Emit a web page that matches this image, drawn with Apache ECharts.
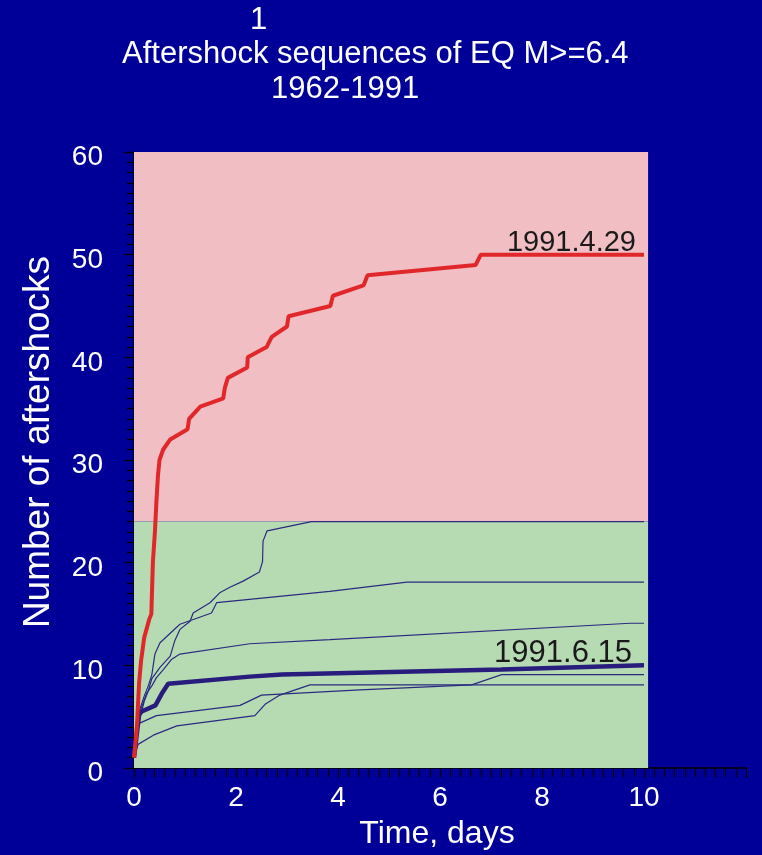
<!DOCTYPE html>
<html>
<head>
<meta charset="utf-8">
<script src="https://cdn.jsdelivr.net/npm/echarts@6/dist/echarts.min.js"></script>
<style>
  html, body { margin: 0; padding: 0; background: #000099; }
  #chart { width: 762px; height: 855px; }
</style>
</head>
<body>
<div id="chart"></div>
<script>
// Cumulative aftershock counts against time since the main shock (days)
const mainDays   = [0, 0.02, 0.06, 0.1, 0.14, 0.2, 0.3, 0.34, 0.37, 0.41, 0.44, 0.47, 0.5, 0.57, 0.71, 1.05, 1.08, 1.3, 1.75, 1.78, 1.84, 2.22, 2.23, 2.6, 2.7, 3.0, 3.03, 3.85, 3.9, 4.5, 4.58, 6.7, 6.8, 10];
const mainCounts = [1, 2, 4.3, 8.3, 10.5, 12.7, 14.5, 15, 20, 23, 26, 28.5, 30, 31, 32, 33, 34, 35.2, 36, 37, 38, 39, 40, 41, 42, 43, 44, 45, 46, 47, 48, 49, 50, 50];

const juneDays   = [0, 0.1, 0.15, 0.42, 0.54, 0.67, 2.27, 2.9, 7.2, 10];
const juneCounts = [1, 5.2, 5.5, 6.1, 7.2, 8.2, 8.9, 9.1, 9.6, 10];

const seqADays   = [0, 0.1, 0.2, 0.28, 0.35, 0.51, 0.71, 0.8, 0.9, 1.1, 1.16, 1.49, 1.69, 1.88, 2.14, 2.46, 2.52, 2.53, 2.61, 3.48, 10];
const seqACounts = [1, 4.5, 6.5, 7.5, 8.7, 9.8, 10.9, 12.4, 13.5, 14.3, 15.1, 16.1, 17.1, 17.6, 18.2, 19.1, 20.1, 22.1, 23.1, 24, 24];

const seqBDays   = [0, 0.1, 0.2, 0.28, 0.35, 0.41, 0.51, 0.9, 1.52, 1.62, 3.84, 5.35, 10];
const seqBCounts = [1, 5.5, 7, 8, 9.1, 11.1, 12.2, 14, 15.1, 16.1, 17.2, 18.1, 18.1];

const seqCDays   = [0, 0.12, 0.25, 0.35, 0.44, 0.58, 0.74, 0.9, 2.27, 3.84, 9.73, 10];
const seqCCounts = [1, 5.5, 7.3, 8, 8.8, 9.6, 10.6, 11.1, 12.1, 12.5, 14.1, 14.1];

const seqDDays   = [0, 0.08, 0.44, 2.08, 2.5, 4.43, 6.62, 10];
const seqDCounts = [1, 4.3, 5.1, 6.1, 7.1, 7.6, 8.1, 8.1];

const seqEDays   = [0, 0.08, 0.38, 0.84, 2.37, 2.57, 2.86, 3.45, 6.62, 7.21, 10];
const seqECounts = [1, 2.3, 3.2, 4.1, 5.1, 6.2, 7.1, 8.1, 8.1, 9.1, 9.1];

const xTickLabels = ['0', '2', '4', '6', '8', '10'];
const yTickLabels = ['0', '10', '20', '30', '40', '50', '60'];

function pairs(xs, ys) { return xs.map((x, i) => [x, ys[i]]); }

const chart = echarts.init(document.getElementById('chart'), null, { renderer: 'canvas' });

const thinLine = (xs, ys) => ({
  type: 'line', data: pairs(xs, ys), symbol: 'none', silent: true,
  lineStyle: { color: '#2b2a80', width: 1.2 }, z: 3
});

const textColor = '#ffffff';
const font = 'Liberation Sans, Arial, sans-serif';
const tickColor = '#000000';

chart.setOption({
  backgroundColor: '#000099',
  animation: false,
  grid: { left: 134, top: 152, width: 612, height: 618, containLabel: false },
  xAxis: {
    type: 'value', min: 0, max: 12, interval: 2,
    axisLine: { show: true, lineStyle: { color: tickColor, width: 1.5 } },
    axisTick: { show: true, inside: false, length: 10, lineStyle: { color: tickColor, width: 1.3 } },
    minorTick: { show: true, splitNumber: 10, length: 9, lineStyle: { color: tickColor, width: 1.3 } },
    splitLine: { show: false },
    axisLabel: {
      color: textColor, fontSize: 28, fontFamily: font, margin: 16,
      formatter: v => xTickLabels.includes(String(v)) ? String(v) : ''
    },
    name: 'Time, days', nameLocation: 'middle', nameGap: 50,
    nameTextStyle: { color: textColor, fontSize: 32, fontFamily: font, padding: [0, 6, 0, 0] }
  },
  yAxis: {
    type: 'value', min: 0, max: 60, interval: 10,
    axisLine: { show: true, lineStyle: { color: tickColor, width: 1.5 } },
    axisTick: { show: true, inside: false, length: 10, lineStyle: { color: tickColor, width: 1.3 } },
    minorTick: { show: true, splitNumber: 10, length: 7, lineStyle: { color: tickColor, width: 1.3 } },
    splitLine: { show: false },
    axisLabel: {
      color: textColor, fontSize: 28, fontFamily: font, margin: 31,
      formatter: v => yTickLabels.includes(String(v)) ? '{n|' + v + '}' : '',
      rich: { n: { color: textColor, fontSize: 28, fontFamily: font, padding: [11, 0, 0, 0] } }
    },
    name: 'Number of aftershocks', nameLocation: 'middle', nameGap: 77, nameRotate: 90,
    nameTextStyle: { color: textColor, fontSize: 37, fontFamily: font, padding: [0, 0, 0, 36] }
  },
  graphic: [
    { type: 'text', x: 250, y: 20, style: { text: '1', fill: textColor, fontSize: 31, fontFamily: font, textVerticalAlign: 'middle' } },
    { type: 'text', x: 122, y: 54, style: { text: 'Aftershock sequences of EQ M>=6.4', fill: textColor, fontSize: 31, fontFamily: font, textVerticalAlign: 'middle' } },
    { type: 'text', x: 271, y: 89, style: { text: '1962-1991', fill: textColor, fontSize: 31, fontFamily: font, textVerticalAlign: 'middle' } }
  ],
  series: [
    {
      type: 'line', data: [], silent: true, z: 1,
      markArea: {
        silent: true,
        data: [
          [{ xAxis: 0, yAxis: 24, itemStyle: { color: '#f0bec3' } }, { xAxis: 10.08, yAxis: 60 }],
          [{ xAxis: 0, yAxis: 0, itemStyle: { color: '#b6dbb3' } }, { xAxis: 10.08, yAxis: 24 }]
        ]
      }
    },
    thinLine(seqADays, seqACounts),
    thinLine(seqBDays, seqBCounts),
    thinLine(seqCDays, seqCCounts),
    thinLine(seqDDays, seqDCounts),
    thinLine(seqEDays, seqECounts),
    {
      type: 'line', data: pairs(juneDays, juneCounts), symbol: 'none', silent: true, z: 4,
      lineStyle: { color: '#281d7c', width: 4.5 },
      endLabel: {
        show: true, formatter: '1991.6.15', color: '#1a1a1a', fontSize: 31, fontFamily: font,
        align: 'right', verticalAlign: 'bottom', offset: [-20, 4]
      }
    },
    {
      type: 'line', data: pairs(mainDays, mainCounts), symbol: 'none', silent: true, z: 5,
      lineStyle: { color: '#e0282a', width: 4 },
      endLabel: {
        show: true, formatter: '1991.4.29', color: '#1a1a1a', fontSize: 29, fontFamily: font,
        align: 'right', verticalAlign: 'bottom', offset: [-16, 3]
      }
    }
  ]
});
</script>
</body>
</html>
